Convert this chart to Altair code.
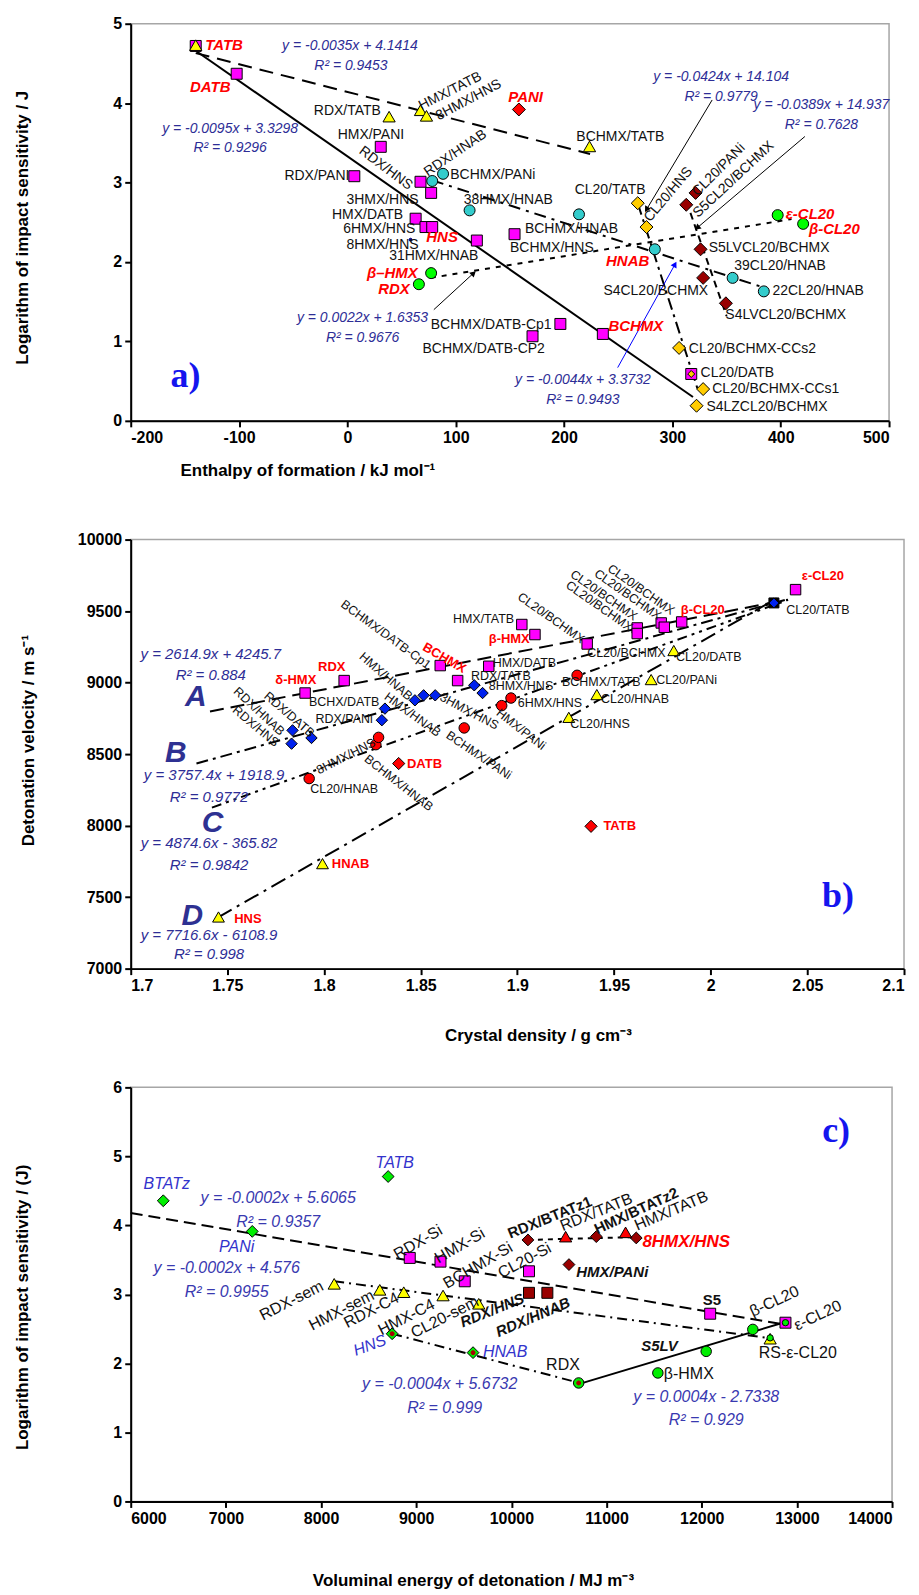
import altair as alt
import pandas as pd

FONT = "Liberation Sans"
SERIF = "Liberation Serif"
EQ = "#2d2d96"
BIG = "#2e3192"
TAG = "#1515ee"

# ======================= Panel a data =======================
a_sq_x = [-140, -102.2, 30.8, 6.4, 67.5, 77.3, 63, 72.1, 78.3, 119.5, 154.3, 196.6, 170.9, 235.8, 317.4]
a_sq_y = [4.72, 4.37, 3.45, 3.08, 3.01, 2.87, 2.545, 2.44, 2.44, 2.27, 2.35, 1.22, 1.065, 1.094, 0.59]
a_tri_x = [-140, 38.5, 67.5, 73, 223.5]
a_tri_y = [4.73, 3.83, 3.91, 3.84, 3.455]
a_cyan_x = [78.3, 88.3, 112.8, 213.8, 283.8, 355.6, 384.4]
a_cyan_y = [3.02, 3.11, 2.65, 2.60, 2.16, 1.80, 1.63]
a_green_x = [77.3, 66, 397.2, 420.7]
a_green_y = [1.86, 1.72, 2.59, 2.48]
a_orange_x = [268, 276.1, 306.2, 328.4, 322.3]
a_orange_y = [2.74, 2.44, 0.918, 0.40, 0.19]
a_inner_x = [317.4]
a_inner_y = [0.59]
a_maroon_x = [321.4, 312.8, 326, 328.4, 349.4]
a_maroon_y = [2.87, 2.72, 2.16, 1.80, 1.48]
a_red_x = [158.3]
a_red_y = [3.92]
a_dot_x = [58.3]
a_dot_y = [2.28]

# trend lines (endpoints)
a_lines = [
    ([-140, 319], [4.66, 0.30], None),
    ([-140, 224], [4.63, 3.36], [14, 8]),
    ([77, 410], [1.80, 2.54], [5, 6]),
    ([78, 384], [3.03, 1.68], [12, 6, 3, 6]),
    ([268, 324], [2.74, 0.37], [12, 5, 3, 5]),
    ([313, 350], [2.76, 1.32], [7, 5]),
]
# arrows: x, y, x2, y2, head angle, colour
a_arrows = [
    (336.7, 4.04, 276.1, 2.66, 211, "black"),
    (422.3, 3.58, 322.9, 2.43, 230, "black"),
    (79.8, 1.40, 116.5, 1.86, 47, "black"),
    (249.5, 0.67, 302.4, 1.97, 29, "#0000ff"),
]

a_txt_center = [
    ("HMX/TATB", 95, 4.15, 333), ("8HMX/HNS", 111.9, 4.04, 332),
    ("HMX/PANI", 21.7, 3.60, 0), ("RDX/HNS", 35.4, 3.18, 37),
    ("RDX/HNAB", 99.6, 3.37, 326), ("3HMX/HNS", 32.4, 2.78, 0),
    ("HMX/DATB", 18.6, 2.59, 0), ("6HMX/HNS", 29.4, 2.42, 0),
    ("8HMX/HNS", 32.4, 2.22, 0), ("31HMX/HNAB", 79.8, 2.07, 0),
    ("BCHMX/TATB", 251.9, 3.57, 0), ("CL20/TATB", 242.5, 2.90, 0),
    ("CL20/HNS", 296.3, 2.85, 310), ("CL20/PANi", 342.8, 3.16, 315),
    ("S5CL20/BCHMX", 356.5, 3.04, 317), ("S4CL20/BCHMX", 284.7, 1.64, 0),
]
a_txt_right = [
    ("RDX/TATB", 30.8, 3.90, 0), ("RDX/PANI", 1.8, 3.08, 0),
    ("BCHMX/DATB-Cp1", 188.4, 1.21, 0), ("BCHMX/DATB-CP2", 182.2, 0.90, 0),
]
a_txt_left = [
    ("BCHMX/PANi", 95, 3.10, 0), ("38HMX/HNAB", 107.3, 2.78, 0),
    ("BCHMX/HNAB", 163.9, 2.42, 0), ("BCHMX/HNS", 150.1, 2.18, 0),
    ("S5LVCL20/BCHMX", 333.6, 2.17, 0), ("39CL20/HNAB", 357.2, 1.95, 0),
    ("22CL20/HNAB", 392.3, 1.63, 0), ("S4LVCL20/BCHMX", 348.9, 1.33, 0),
    ("CL20/BCHMX-CCs2", 315.2, 0.91, 0), ("CL20/DATB", 326, 0.60, 0),
    ("CL20/BCHMX-CCs1", 336.7, 0.40, 0), ("S4LZCL20/BCHMX", 331.5, 0.18, 0),
]
a_red_center = [
    ("DATB", -126.6, 4.20, 0), ("PANI", 164.5, 4.08, 0), ("HNS", 87.4, 2.31, 0),
    ("β–HMX", 41.5, 1.86, 0), ("RDX", 43, 1.66, 0), ("HNAB", 258.7, 2.01, 0),
    ("BCHMX", 266.3, 1.20, 0),
]
a_red_left = [("TATB", -131.2, 4.73, 0), ("ε-CL20", 404.6, 2.60, 0), ("β-CL20", 426, 2.42, 0)]
a_eq = [
    ("y = -0.0035x + 4.1414", 2.4, 4.72, 0), ("R² = 0.9453", 3.3, 4.47, 0),
    ("y = -0.0095x + 3.3298", -108.3, 3.67, 0), ("R² = 0.9296", -108.3, 3.43, 0),
    ("y = 0.0022x + 1.6353", 14, 1.30, 0), ("R² = 0.9676", 14, 1.04, 0),
    ("y = -0.0044x + 3.3732", 217.4, 0.51, 0), ("R² = 0.9493", 217.4, 0.26, 0),
    ("y = -0.0424x + 14.104", 345, 4.33, 0), ("R² = 0.9779", 345, 4.08, 0),
    ("y = -0.0389x + 14.937", 437.6, 3.98, 0), ("R² = 0.7628", 437.6, 3.72, 0),
]
a_tag = [("a)", -149.5, 0.56, 0)]

# ======================= Panel b data =======================
b_sq_x = [1.7902, 1.8104, 1.8601, 1.8691, 1.8852, 1.9023, 1.9091, 1.9361, 1.962, 1.962, 1.9744, 1.976, 1.985, 2.0439]
b_sq_y = [8927, 9014, 9119, 9014, 9114, 9406, 9336, 9270, 9382, 9343, 9417, 9387, 9424, 9650]
b_bd_x = [1.7837, 1.7832, 1.7935, 1.8299, 1.8315, 1.847, 1.8515, 1.8575, 1.8777, 1.882]
b_bd_y = [8666, 8573, 8613, 8737, 8818, 8876, 8911, 8911, 8981, 8927]
b_rc_x = [1.7923, 1.8268, 1.8282, 1.8725, 1.8919, 1.8967, 1.9309]
b_rc_y = [8329, 8566, 8617, 8683, 8839, 8892, 9051]
b_rd_x = [1.8386, 1.9381]
b_rd_y = [8434, 7995]
b_tri_x = [1.7454, 1.7992, 1.9266, 1.9411, 1.9692, 1.9809]
b_tri_y = [7361, 7734, 8757, 8916, 9021, 9224]
b_tatb_x = [2.0327]
b_tatb_y = [9557]

b_lines = [
    ([1.741, 2.040], [8798, 9580], [14, 7]),
    ([1.734, 2.040], [8434, 9584], [12, 5, 3, 5]),
    ([1.742, 2.040], [8126, 9578], [10, 5, 3, 5, 3, 5]),
    ([1.745, 2.035], [7357, 9595], [16, 6, 3, 6]),
]

b_txt_center = [
    ("BCHMX/DATB-Cp1", 1.832, 9336, 36), ("HMX/TATB", 1.8825, 9448, 0),
    ("BCHX/DATB", 1.8104, 8862, 0), ("RDX/PANi", 1.8104, 8748, 0),
    ("RDX/DATB", 1.782, 8776, 41), ("RDX/HNAB", 1.7664, 8799, 43),
    ("RDX/HNS", 1.7647, 8694, 40), ("HMX/HNAB", 1.832, 9044, 41),
    ("3HMX/HNS", 1.8751, 8799, 28), ("HMX/HNAB", 1.8458, 8776, 36),
    ("BCHMX/PANi", 1.8801, 8492, 34), ("HMX/PANi", 1.9019, 8673, 38),
    ("CL20/BCHMX", 1.9174, 9452, 35), ("CL20/BCHMX", 1.9424, 9534, 35),
    ("CL20/BCHMX", 1.9447, 9610, 35), ("CL20/BCHMX", 1.9571, 9615, 35),
    ("CL20/BCHMX", 1.9640, 9650, 35),
    ("CL20/HNAB", 1.8104, 8259, 0), ("8HMX/HNS", 1.8113, 8485, 333),
    ("BCHMX/HNAB", 1.8386, 8298, 38),
]
b_txt_left = [
    ("HMX/DATB", 1.8872, 9137, 0), ("RDX/TATB", 1.876, 9044, 0),
    ("8HMX/HNS", 1.8852, 8974, 0), ("6HMX/HNS", 1.9002, 8857, 0),
    ("BCHMX/TATB", 1.9231, 9004, 0), ("CL20/HNS", 1.9273, 8711, 0),
    ("CL20/HNAB", 1.9433, 8886, 0), ("CL20/PANi", 1.9718, 9016, 0),
    ("CL20/DATB", 1.9821, 9177, 0), ("CL20/BCHMX", 1.9361, 9207, 0),
    ("CL20/TATB", 2.0391, 9510, 0),
]
b_red_center = [
    ("δ-HMX", 1.7854, 9021, 0), ("RDX", 1.804, 9107, 0), ("β-HMX", 1.8958, 9308, 0),
    ("β-CL20", 1.9959, 9510, 0), ("ε-CL20", 2.058, 9743, 0), ("BCHMX", 1.8622, 9172, 30),
]
b_red_left = [("HNAB", 1.804, 7734, 0), ("HNS", 1.7535, 7350, 0), ("DATB", 1.8429, 8434, 0), ("TATB", 1.9445, 7995, 0)]
b_eq = [
    ("y = 2614.9x + 4245.7", 1.7414, 9203, 0), ("R² = 0.884", 1.7414, 9051, 0),
    ("y = 3757.4x + 1918.9", 1.7431, 8357, 0), ("R² = 0.9772", 1.7405, 8200, 0),
    ("y = 4874.6x - 365.82", 1.7405, 7878, 0), ("R² = 0.9842", 1.7405, 7727, 0),
    ("y = 7716.6x - 6108.9", 1.7405, 7238, 0), ("R² = 0.998", 1.7405, 7102, 0),
]
b_big = [("A", 1.7336, 8897, 0), ("B", 1.7233, 8508, 0), ("C", 1.7423, 8018, 0), ("D", 1.7319, 7366, 0)]
b_tag = [("b)", 2.0658, 7506, 0)]

# ======================= Panel c data =======================
c_gd_x = [6342, 7277, 8705, 8747, 9597]
c_gd_y = [4.357, 3.913, 4.708, 2.43, 2.156]
c_sq_x = [8932, 9255, 9510, 10185, 12089, 12880]
c_sq_y = [3.529, 3.475, 3.19, 3.335, 2.72, 2.59]
c_msq_x = [10185, 10378]
c_msq_y = [3.023, 3.023]
c_md_x = [10174, 10892, 11312, 10605]
c_md_y = [3.789, 3.837, 3.818, 3.432]
c_rt_x = [10570, 11200]
c_rt_y = [3.837, 3.899]
c_yt_x = [8138, 8617, 8869, 9282, 9657, 12719]
c_yt_y = [3.153, 3.066, 3.032, 2.984, 2.864, 2.358]
c_gc_x = [10707, 11539, 12047, 12537]
c_gc_y = [1.717, 1.862, 2.175, 2.493]
c_small_gc_x = [12880, 12719]
c_small_gc_y = [2.59, 2.37]
c_reddot_x = [8747, 9597, 10707]
c_reddot_y = [2.43, 2.156, 1.717]

c_lines = [
    ([6000, 12880], [4.18, 2.56], [12, 6]),
    ([8138, 12700], [3.19, 2.37], [10, 5, 2, 5]),
    ([10174, 11312], [3.79, 3.83], [5, 5]),
    ([8747, 10707], [2.43, 1.72], [10, 5, 2, 5]),
    ([10707, 12880], [1.70, 2.60], None),
]

c_blue_center = [("BTATz", 6378, 4.60, 0), ("PANi", 7113, 3.69, 0), ("TATB", 8775, 4.91, 0), ("HNS", 8512, 2.26, 340)]
c_blue_left = [("HNAB", 9702, 2.165, 0)]
c_txt_center = [
    ("RDX-Si", 9019, 3.755, 330), ("HMX-Si", 9457, 3.705, 330), ("BCHMX-Si", 9649, 3.42, 330),
    ("CL20-Si", 10140, 3.49, 332), ("RDX/TATB", 10892, 4.19, 338), ("HMX/TATB", 11680, 4.21, 337),
    ("β-CL20", 12764, 2.90, 335), ("ε-CL20", 13219, 2.695, 335), ("RS-ε-CL20", 13009, 2.156, 0),
    ("RDX", 10542, 1.97, 0), ("RDX-sem", 7690, 2.91, 333), ("HMX-sem", 8215, 2.77, 333),
    ("RDX-C4", 8530, 2.77, 333), ("HMX-C4", 8898, 2.67, 333), ("CL20-sem", 9300, 2.67, 333),
]
c_txt_left = [("β-HMX", 11602, 1.853, 0)]
c_bold = [("RDX/BTATz1", 10402, 4.115, 338), ("HMX/BTATz2", 11312, 4.21, 335), ("S5", 12106, 2.92, 0)]
c_bold_italic = [("RDX/HNS", 9798, 2.77, 338), ("RDX/HNAB", 10227, 2.67, 337), ("S5LV", 11557, 2.247, 0)]
c_bold_italic_left = [("HMX/PANi", 10682, 3.33, 0)]
c_red = [("8HMX/HNS", 11837, 3.755, 0)]
c_eq = [
    ("y = -0.0002x + 5.6065", 7550, 4.40, 0), ("R² = 0.9357", 7550, 4.05, 0),
    ("y = -0.0002x + 4.576", 7008, 3.385, 0), ("R² = 0.9955", 7008, 3.04, 0),
    ("y = -0.0004x + 5.6732", 9247, 1.70, 0), ("R² = 0.999", 9300, 1.347, 0),
    ("y = 0.0004x - 2.7338", 12047, 1.515, 0), ("R² = 0.929", 12047, 1.178, 0),
]
c_tag = [("c)", 13412, 5.37, 0)]


# ======================= helpers =======================
def make_axes(xdom, ydom, xvals, yvals, xexpr, yexpr, xtitle, ytitle, xtx, xty, ytx, yty):
    common = dict(labelFont=FONT, labelFontWeight="bold", labelFontSize=16, labelColor="black",
                  domainColor="black", domainWidth=2, tickColor="black", tickWidth=2, tickSize=6,
                  labelPadding=3, titleFont=FONT, titleFontSize=17, titleFontWeight="bold",
                  titleColor="black", titleAlign="center", titleBaseline="middle", grid=False)
    ax = alt.Axis(values=xvals, labelExpr=xexpr, title=xtitle, titleX=xtx, titleY=xty, titleAngle=0, **common)
    ay = alt.Axis(values=yvals, labelExpr=yexpr, title=ytitle, titleX=ytx, titleY=yty, titleAngle=270, **common)
    sx = alt.Scale(domain=xdom, nice=False, zero=False)
    sy = alt.Scale(domain=ydom, nice=False, zero=False)
    X = lambda f="x": alt.X(f + ":Q", scale=sx, axis=ax)
    Y = lambda f="y": alt.Y(f + ":Q", scale=sy, axis=ay)
    return X, Y


PLAIN = "'' + datum.value"


def pts(xs, ys, shape, fill, size, stroke="black"):
    return [dict(x=x, y=y, shape=shape, fill=fill, size=size, stroke=stroke) for x, y in zip(xs, ys)]


def point_layer(rows, X, Y):
    df = pd.DataFrame(rows)
    return alt.Chart(df).mark_point(filled=True, opacity=1, strokeWidth=1).encode(
        x=X(), y=Y(),
        shape=alt.Shape("shape:N", scale=None),
        fill=alt.Fill("fill:N", scale=None),
        stroke=alt.Stroke("stroke:N", scale=None),
        size=alt.Size("size:Q", scale=None),
    )


def line_layer(xs, ys, dash, X, Y, width=2, color="black"):
    df = pd.DataFrame({"x": xs, "y": ys})
    kw = dict(color=color, strokeWidth=width)
    if dash:
        kw["strokeDash"] = dash
    return alt.Chart(df).mark_line(**kw).encode(x=X(), y=Y())


def text_layer(rows, X, Y, color, size, weight="normal", style="normal", align="center", font=FONT):
    df = pd.DataFrame(rows, columns=["t", "x", "y", "a"])
    return alt.Chart(df).mark_text(font=font, fontSize=size, fontWeight=weight, fontStyle=style,
                                   color=color, align=align, baseline="middle").encode(
        x=X(), y=Y(), text="t:N", angle=alt.Angle("a:Q", scale=None))


def arrow_layers(arrows, X, Y):
    df = pd.DataFrame(arrows, columns=["x", "y", "x2", "y2", "ang", "col"])
    rule = alt.Chart(df).mark_rule(strokeWidth=1).encode(
        x=X(), y=Y(), x2=alt.X2("x2"), y2=alt.Y2("y2"), color=alt.Color("col:N", scale=None))
    head = alt.Chart(df).mark_point(filled=True, shape="triangle-up", size=45, opacity=1).encode(
        x=X("x2"), y=Y("y2"), angle=alt.Angle("ang:Q", scale=None), color=alt.Color("col:N", scale=None))
    return [rule, head]


# ======================= Panel a =======================
aX, aY = make_axes([-200, 500], [0, 5], list(range(-200, 501, 100)), [0, 1, 2, 3, 4, 5], PLAIN, PLAIN,
                   "Enthalpy of formation / kJ mol⁻¹", "Logarithm of impact sensitivity / J",
                   177, 50, -108, 204)
a_rows = (pts(a_sq_x, a_sq_y, "square", "#ff00ff", 121)
          + pts(a_tri_x, a_tri_y, "triangle-up", "#ffff00", 150)
          + pts(a_cyan_x, a_cyan_y, "circle", "#33cccc", 121)
          + pts(a_green_x, a_green_y, "circle", "#00ff00", 121)
          + pts(a_orange_x, a_orange_y, "diamond", "#ffcc00", 169)
          + pts(a_inner_x, a_inner_y, "diamond", "#ffcc00", 49)
          + pts(a_maroon_x, a_maroon_y, "diamond", "#990000", 169)
          + pts(a_red_x, a_red_y, "diamond", "#ff0000", 169)
          + pts(a_dot_x, a_dot_y, "circle", "#000080", 9, "#000080"))
a_layers = [line_layer(xs, ys, d, aX, aY) for xs, ys, d in a_lines]
a_layers += arrow_layers(a_arrows, aX, aY)
a_layers += [
    point_layer(a_rows, aX, aY),
    text_layer(a_txt_center, aX, aY, "#111111", 14),
    text_layer(a_txt_right, aX, aY, "#111111", 14, align="right"),
    text_layer(a_txt_left, aX, aY, "#111111", 14, align="left"),
    text_layer(a_red_center, aX, aY, "#ff0000", 15, "bold", "italic"),
    text_layer(a_red_left, aX, aY, "#ff0000", 15, "bold", "italic", align="left"),
    text_layer(a_eq, aX, aY, EQ, 14, style="italic"),
    text_layer(a_tag, aX, aY, TAG, 36, "bold", font=SERIF),
]
pa = alt.layer(*a_layers).properties(width=760, height=398)

# ======================= Panel b =======================
bX, bY = make_axes([1.7, 2.1], [7000, 10000], [1.7, 1.75, 1.8, 1.85, 1.9, 1.95, 2.0, 2.05, 2.1],
                   list(range(7000, 10001, 500)), "format(datum.value, '~g')", PLAIN,
                   "Crystal density / g cm⁻³", "Detonation velocity / m s⁻¹",
                   408, 67, -102.5, 201)
b_rows = (pts(b_sq_x, b_sq_y, "square", "#ff00ff", 110)
          + pts(b_bd_x, b_bd_y, "diamond", "#0022ee", 130)
          + pts(b_rc_x, b_rc_y, "circle", "#ff0000", 110)
          + pts(b_rd_x, b_rd_y, "diamond", "#ff0000", 150)
          + pts(b_tri_x, b_tri_y, "triangle-up", "#ffff00", 140)
          + pts(b_tatb_x, b_tatb_y, "square", "#000000", 100)
          + pts(b_tatb_x, b_tatb_y, "diamond", "#0022ee", 100))
b_layers = [line_layer(xs, ys, d, bX, bY) for xs, ys, d in b_lines]
b_layers += [
    point_layer(b_rows, bX, bY),
    text_layer(b_txt_center, bX, bY, "#111111", 12.5),
    text_layer(b_txt_left, bX, bY, "#111111", 12.5, align="left"),
    text_layer(b_red_center, bX, bY, "#ff0000", 13, "bold"),
    text_layer(b_red_left, bX, bY, "#ff0000", 13, "bold", align="left"),
    text_layer(b_eq, bX, bY, EQ, 15, style="italic"),
    text_layer(b_big, bX, bY, BIG, 30, "bold", "italic"),
    text_layer(b_tag, bX, bY, TAG, 36, "bold", font=SERIF),
]
pb = alt.layer(*b_layers).properties(width=775, height=430)

# ======================= Panel c =======================
cX, cY = make_axes([6000, 14000], [0, 6], list(range(6000, 14001, 1000)), [0, 1, 2, 3, 4, 5, 6], PLAIN, PLAIN,
                   "Voluminal energy of detonation / MJ m⁻³", "Logarithm of impact sensitivity / (J)",
                   343, 79, -108, 220)
c_rows = (pts(c_gd_x, c_gd_y, "diamond", "#00ee00", 140)
          + pts(c_sq_x, c_sq_y, "square", "#ff00ff", 121)
          + pts(c_msq_x, c_msq_y, "square", "#990000", 121)
          + pts(c_md_x, c_md_y, "diamond", "#990000", 140)
          + pts(c_rt_x, c_rt_y, "triangle-up", "#ff0000", 150)
          + pts(c_yt_x, c_yt_y, "triangle-up", "#ffff00", 150)
          + pts(c_gc_x, c_gc_y, "circle", "#00ee00", 110)
          + pts(c_small_gc_x, c_small_gc_y, "circle", "#00ee00", 40)
          + pts(c_reddot_x, c_reddot_y, "circle", "#aa0000", 16, "#aa0000"))
c_layers = [line_layer(xs, ys, d, cX, cY) for xs, ys, d in c_lines]
c_layers += [
    point_layer(c_rows, cX, cY),
    text_layer(c_blue_center, cX, cY, "#3333cc", 16, style="italic"),
    text_layer(c_blue_left, cX, cY, "#3333cc", 16, style="italic", align="left"),
    text_layer(c_txt_center, cX, cY, "#111111", 16),
    text_layer(c_txt_left, cX, cY, "#111111", 16, align="left"),
    text_layer(c_bold, cX, cY, "#111111", 15, "bold"),
    text_layer(c_bold_italic, cX, cY, "#111111", 15, "bold", "italic"),
    text_layer(c_bold_italic_left, cX, cY, "#111111", 15, "bold", "italic", align="left"),
    text_layer(c_red, cX, cY, "#ff0000", 17, "bold", "italic"),
    text_layer(c_eq, cX, cY, "#3939b0", 16, style="italic"),
    text_layer(c_tag, cX, cY, TAG, 36, "bold", font=SERIF),
]
pc = alt.layer(*c_layers).properties(width=763, height=415)

chart = alt.vconcat(pa, pb, pc, spacing=119, bounds="flush").properties(
    padding={"left": 5, "top": 5, "right": 5, "bottom": 0}
).configure_view(stroke="#a6a6a6", strokeWidth=1.5)

chart.save("out.html", embed_options={"renderer": "svg", "actions": False})
